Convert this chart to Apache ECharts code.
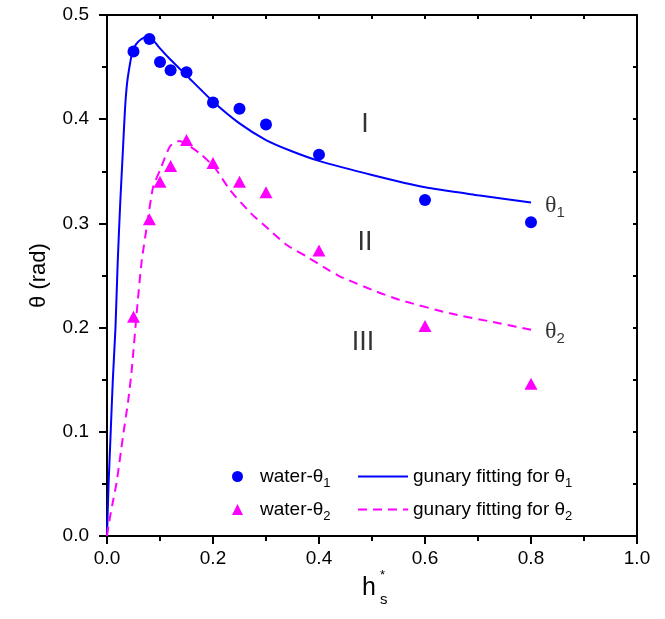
<!DOCTYPE html>
<html><head><meta charset="utf-8">
<script src="https://cdn.jsdelivr.net/npm/echarts@6/dist/echarts.min.js"></script>
<style>html,body{margin:0;padding:0;background:#fff}#c{width:665px;height:619px}</style>
</head><body><div id="c"></div>
<script>
// ---- data ----
const xTickValues = [0, 0.2, 0.4, 0.6, 0.8, 1.0];
const yTickValues = [0, 0.1, 0.2, 0.3, 0.4, 0.5];

const water1X = [0.05, 0.08, 0.10, 0.12, 0.15, 0.20, 0.25, 0.30, 0.40, 0.60, 0.80];
const water1Y = [0.465, 0.477, 0.455, 0.447, 0.445, 0.416, 0.410, 0.395, 0.366, 0.3225, 0.301];

const water2X = [0.05, 0.08, 0.10, 0.12, 0.15, 0.20, 0.25, 0.30, 0.40, 0.60, 0.80];
const water2Y = [0.2105, 0.304, 0.340, 0.355, 0.380, 0.358, 0.340, 0.330, 0.274, 0.2015, 0.146];

const fit1X = [0, 0.003, 0.007, 0.011, 0.016, 0.020, 0.025, 0.030, 0.034, 0.038, 0.043, 0.048, 0.055, 0.065, 0.075, 0.085, 0.10, 0.12, 0.15, 0.20, 0.25, 0.30, 0.35, 0.40, 0.50, 0.60, 0.70, 0.80];
const fit1Y = [0, 0.05, 0.10, 0.15, 0.20, 0.26, 0.32, 0.37, 0.41, 0.435, 0.452, 0.465, 0.472, 0.477, 0.479, 0.477, 0.468, 0.457, 0.442, 0.417, 0.396, 0.380, 0.369, 0.360, 0.3465, 0.3346, 0.327, 0.320];

const fit2X = [0, 0.0025, 0.010, 0.018, 0.030, 0.040, 0.0466, 0.056, 0.065, 0.076, 0.087, 0.10, 0.119, 0.136, 0.1755, 0.204, 0.232, 0.271, 0.306, 0.340, 0.377, 0.409, 0.44, 0.509, 0.553, 0.647, 0.742, 0.80];
const fit2Y = [0, 0.009, 0.030, 0.051, 0.095, 0.130, 0.159, 0.214, 0.262, 0.300, 0.335, 0.351, 0.374, 0.379, 0.367, 0.353, 0.332, 0.310, 0.294, 0.279, 0.268, 0.258, 0.249, 0.2345, 0.2265, 0.2137, 0.204, 0.198];

const annoText = ['I', 'II', 'III', 'θ1', 'θ2'];
const annoX = [0.487, 0.487, 0.483, 0.845, 0.845];
const annoY = [0.395, 0.282, 0.186, 0.317, 0.196];

const seriesNames = ['water-θ1', 'water-θ2', 'gunary fitting for θ1', 'gunary fitting for θ2'];

// ---- build ----
const zip = (xs, ys) => xs.map((x, i) => [x, ys[i]]);
const SANS = 'Liberation Sans, Arial, sans-serif';
const SERIF = 'Liberation Serif, Times New Roman, serif';
const subFmt = n => n.replace(/θ(\d)/, 'θ{sub|$1}');

const chart = echarts.init(document.getElementById('c'), null, {renderer: 'canvas'});

const legendRich = {
  sub: {fontSize: 13, fontFamily: SANS, color: '#000', padding: [14, 0, 0, 0]},
  pad: {width: 12}
};
const AX = {color: '#000', width: 2};

const option = {
  animation: false,
  backgroundColor: '#fff',
  grid: {left: 107, top: 15, right: 28, bottom: 83, containLabel: false},
  xAxis: [{
    type: 'value', min: 0, max: 1, interval: 0.2,
    axisLine: {show: true, onZero: false, lineStyle: AX},
    axisTick: {show: true, inside: false, length: 8, lineStyle: AX},
    minorTick: {show: true, splitNumber: 2, length: 5, lineStyle: AX},
    splitLine: {show: false},
    axisLabel: {color: '#000', fontSize: 19, fontFamily: SANS, margin: 13,
      formatter: v => xTickValues.some(t => Math.abs(t - v) < 1e-9) ? v.toFixed(1) : ''}
  }, {
    type: 'value', min: 0, max: 1, interval: 0.1, position: 'top',
    axisLine: {show: true, onZero: false, lineStyle: AX},
    axisTick: {show: true, inside: true, length: 4, lineStyle: AX},
    axisLabel: {show: false}, splitLine: {show: false}
  }],
  yAxis: [{
    type: 'value', min: 0, max: 0.5, interval: 0.1,
    name: 'θ (rad)', nameLocation: 'middle', nameGap: 57, nameRotate: 90,
    nameTextStyle: {color: '#000', fontSize: 22, fontFamily: SANS},
    axisLine: {show: true, onZero: false, lineStyle: AX},
    axisTick: {show: true, inside: false, length: 8, lineStyle: AX},
    minorTick: {show: true, splitNumber: 2, length: 5, lineStyle: AX},
    splitLine: {show: false},
    axisLabel: {color: '#000', fontSize: 19, fontFamily: SANS, margin: 18,
      formatter: v => yTickValues.some(t => Math.abs(t - v) < 1e-9) ? v.toFixed(1) : ''}
  }, {
    type: 'value', min: 0, max: 0.5, interval: 0.05, position: 'right',
    axisLine: {show: true, onZero: false, lineStyle: AX},
    axisTick: {show: true, inside: true, length: 4, lineStyle: AX},
    axisLabel: {show: false}, splitLine: {show: false}
  }],
  legend: [{
    data: [seriesNames[0], seriesNames[1]],
    orient: 'vertical', left: 227, top: 462, itemGap: 10, padding: 5,
    itemWidth: 11, itemHeight: 11,
    textStyle: {color: '#000', fontSize: 19, fontFamily: SANS, rich: legendRich},
    formatter: n => '{pad|}' + subFmt(n), selectedMode: false
  }, {
    data: [seriesNames[2], seriesNames[3]],
    orient: 'vertical', left: 352, top: 462, itemGap: 10, padding: 5,
    itemWidth: 50, itemHeight: 11,
    itemStyle: {opacity: 0},
    textStyle: {color: '#000', fontSize: 19, fontFamily: SANS, rich: legendRich},
    formatter: subFmt, selectedMode: false
  }],
  graphic: [
    {type: 'text', left: 362, top: 576, style: {text: 'h', fontSize: 25, fontFamily: SANS, fill: '#000'}},
    {type: 'text', left: 380, top: 569, style: {text: '*', fontSize: 13, fontFamily: SANS, fill: '#000'}},
    {type: 'text', left: 380, top: 592, style: {text: 's', fontSize: 15, fontFamily: SANS, fill: '#000'}}
  ],
  series: [
    {
      name: seriesNames[2], type: 'line', data: zip(fit1X, fit1Y), showSymbol: false, symbol: 'none',
      smooth: 0.2, lineStyle: {color: '#0000FF', width: 2}, itemStyle: {color: '#0000FF'}, z: 2
    },
    {
      name: seriesNames[3], type: 'line', data: zip(fit2X, fit2Y), showSymbol: false, symbol: 'none',
      smooth: 0.2, lineStyle: {color: '#FF00FF', width: 2, type: [9, 6]}, itemStyle: {color: '#FF00FF'}, z: 2
    },
    {
      name: seriesNames[0], type: 'scatter', data: zip(water1X, water1Y), symbol: 'circle', symbolSize: 12,
      itemStyle: {color: '#0000FF', opacity: 1}, z: 3
    },
    {
      name: seriesNames[1], type: 'scatter', data: zip(water2X, water2Y), symbol: 'triangle', symbolSize: [13, 12],
      itemStyle: {color: '#FF00FF', opacity: 1}, z: 3
    },
    {
      name: 'annotations', type: 'scatter', symbolSize: 0, silent: true, z: 4,
      data: annoText.map((t, i) => ({value: [annoX[i], annoY[i]], name: t})),
      label: {
        show: true, position: 'inside',
        formatter: p => p.name.startsWith('θ') ? '{th|θ}{sub|' + p.name.slice(1) + '}' : '{rn|' + p.name + '}',
        rich: {
          rn: {fontSize: 27, fontFamily: SANS, color: '#000'},
          th: {fontSize: 24, fontFamily: SERIF, color: '#000'},
          sub: {fontSize: 15, fontFamily: SANS, color: '#000', padding: [15, 0, 0, 0]}
        }
      }
    }
  ]
};
chart.setOption(option);
</script>
</body></html>
